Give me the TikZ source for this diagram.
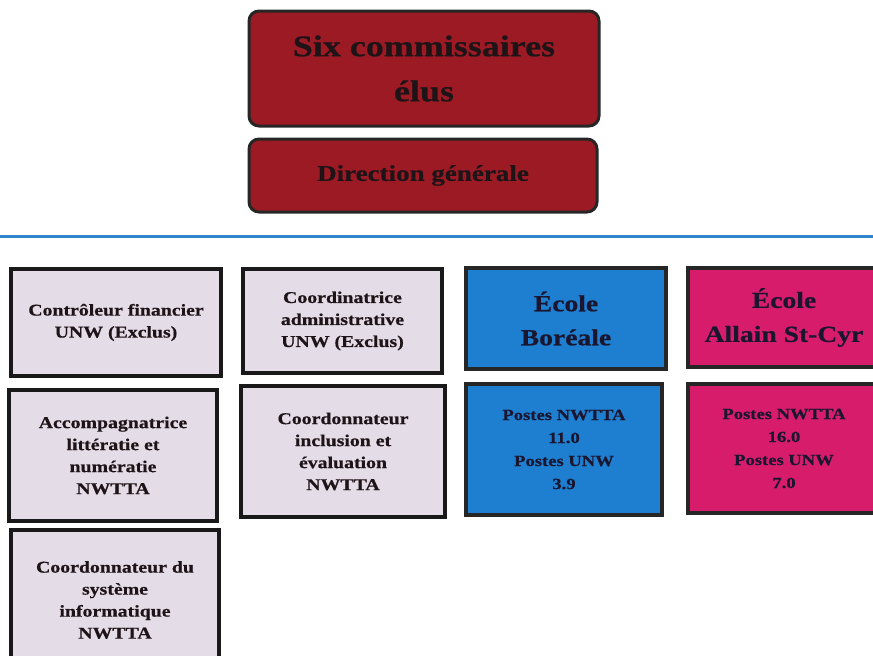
\documentclass[tikz,border=0pt]{standalone}
\usepackage{fontspec}
\setmainfont{Liberation Serif}[FakeStretch=1.2, BoldFeatures={FakeBold=0.6}]
\begin{document}
\begin{tikzpicture}[x=1pt,y=-1pt,
  redbox/.style={draw=black!85, line width=3pt, rounded corners=10pt, fill=darkred, text=txtdark, font=\bfseries, align=center, inner sep=0pt},
  greybox/.style={draw=black!90, line width=3.5pt, fill=lavgrey, text=txtdark, font=\bfseries\fontsize{16.5}{22}\selectfont, align=center, inner sep=0pt},
  bluebox/.style={draw=black!85, line width=3.5pt, fill=schoolblue, text=txtnavy, font=\bfseries, align=center, inner sep=0pt},
  pinkbox/.style={draw=black!85, line width=3.5pt, fill=schoolpink, text=txtnavy, font=\bfseries, align=center, inner sep=0pt}]
\definecolor{darkred}{HTML}{9C1A24}
\definecolor{lavgrey}{HTML}{E4DCE6}
\definecolor{schoolblue}{HTML}{1E7ECF}
\definecolor{schoolpink}{HTML}{D71C6C}
\definecolor{txtdark}{HTML}{1E1418}
\definecolor{txtnavy}{HTML}{1A1630}
\definecolor{lineblue}{HTML}{2F84CC}
\useasboundingbox (0,0) rectangle (873,656);
\clip (0,0) rectangle (873,656);
% top boxes
\node[redbox, minimum width=350pt, minimum height=115pt, font=\bfseries\fontsize{30}{45}\selectfont] (six) at (424,68.5) {Six commissaires\\élus};
\node[redbox, minimum width=348pt, minimum height=73pt, font=\bfseries\fontsize{22.5}{26}\selectfont] (dg) at (423,175.5) {Direction générale};
% separator line
\coordinate (ll) at (0,236);
\coordinate (lr) at (873,236);
\draw[lineblue, line width=3pt] (ll) -- (lr);
% grey boxes
\node[greybox, minimum width=210pt, minimum height=107pt] (ctrl) at (116,322.5) {Contrôleur financier\\UNW (Exclus)};
\node[greybox, minimum width=199pt, minimum height=104pt] (coord) at (342.5,321) {Coordinatrice\\administrative\\UNW (Exclus)};
\node[greybox, minimum width=208pt, minimum height=131pt] (acc) at (113,455.5) {Accompagnatrice\\littératie et\\numératie\\NWTTA};
\node[greybox, minimum width=204pt, minimum height=131pt] (incl) at (343,451.5) {Coordonnateur\\inclusion et\\évaluation\\NWTTA};
\node[greybox, minimum width=208pt, minimum height=140pt] (sys) at (115,600) {Coordonnateur du\\système\\informatique\\NWTTA};
% schools
\node[bluebox, minimum width=200pt, minimum height=101pt, font=\bfseries\fontsize{23}{34}\selectfont] (bor) at (566,318.5) {École\\Boréale};
\node[pinkbox, minimum width=192pt, minimum height=99pt, font=\bfseries\fontsize{23}{34}\selectfont] (asc) at (784,317.5) {École\\Allain St-Cyr};
\node[bluebox, minimum width=196pt, minimum height=131pt, font=\bfseries\fontsize{15.5}{23}\selectfont] (borp) at (564,449.5) {Postes NWTTA\\11.0\\Postes UNW\\3.9};
\node[pinkbox, minimum width=192pt, minimum height=129pt, font=\bfseries\fontsize{15.5}{23}\selectfont] (ascp) at (784,448.5) {Postes NWTTA\\16.0\\Postes UNW\\7.0};
\end{tikzpicture}
\end{document}
